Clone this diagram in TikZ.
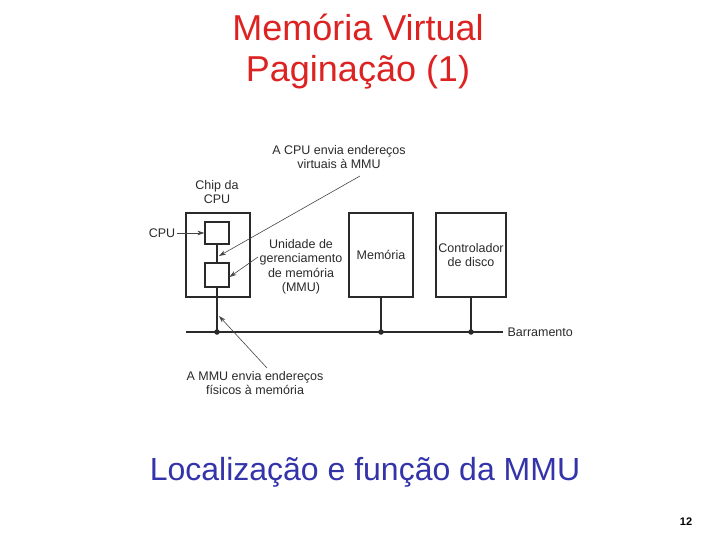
\documentclass[tikz,border=0pt]{standalone}
\usepackage{fontspec}
\setmainfont{Liberation Sans}
\usetikzlibrary{arrows.meta, positioning}
\definecolor{ctitle}{HTML}{DD2222}
\definecolor{ccaption}{HTML}{3333AA}
\definecolor{cink}{HTML}{2A2A2A}
\definecolor{cleader}{HTML}{444444}
\tikzset{
  every picture/.style={line width=1.1pt},
  unit/.style={draw=cink, minimum width=#1, inner sep=0pt},
  unit/.default=64pt,
  label/.style={text=cink, align=center, inner sep=1pt, font=\fontsize{12.5}{14.5}\selectfont},
  leader/.style={-{Stealth[length=7pt, width=4.5pt]}, draw=cleader, line width=0.6pt},
  title/.style={text=ctitle, font=\fontsize{36}{40}\selectfont},
  caption/.style={text=ccaption, font=\fontsize{32}{36}\selectfont},
  junction/.style={circle, fill=cink, inner sep=0pt, minimum size=5.5pt},
}

\begin{document}
\begin{tikzpicture}[x=1pt, y=-1pt]
  \useasboundingbox (0,0) rectangle (720,540);
  % titles
  \node[title] (t1) at (358,27) {Memória Virtual};
  \node[title] (t2) at (358,72) {Paginação (1)};
  % chip with cpu and mmu
  \node[unit=64pt, minimum height=84pt] (chip) at (218,255) {};
  \node[unit=24pt, minimum height=22pt] (cpu) at (217,233) {};
  \node[unit=24pt, minimum height=24pt] (mmu) at (217,275) {};
  \node[unit=64pt, minimum height=84pt, label] (mem) at (381,255) {Memória};
  \node[unit=70pt, minimum height=84pt, label] (disk) at (471,255) {Controlador\\de disco};
  % bus
  \coordinate (busL) at (186,332);
  \coordinate (busR) at (503,332);
  \node[label, anchor=west] (bus) at (506,332) {Barramento};
  \draw[cink] (busL) -- (busR);
  \draw[cink] (cpu.south) -- (mmu.north);
  \draw[cink] (mmu.south) -- (mmu.south |- busL);
  \draw[cink] (mem.south) -- (mem.south |- busL);
  \draw[cink] (disk.south) -- (disk.south |- busL);
  \node[junction] (jmmu) at (mmu.south |- busL) {};
  \node[junction] (jmem) at (mem.south |- busL) {};
  \node[junction] (jdisk) at (disk.south |- busL) {};
  % labels and leaders
  \node[label] (chiplbl) at (217,192) {Chip da\\CPU};
  \node[label] (cpulbl) at (162,233) {CPU};
  \draw[leader] (cpulbl.east) -- (cpu.west);
  \node[label] (mmulbl) at (301,267) {Unidade de\\gerenciamento\\de memória\\(MMU)};
  \coordinate (mmufrom) at (258,257);
  \draw[leader] (mmufrom) -- ([yshift=-2pt]mmu.east);
  \node[label] (vlbl) at (339,157) {A CPU envia endereços\\virtuais à MMU};
  \coordinate (vfrom) at (360,176);
  \coordinate (vto) at (219,256);
  \draw[leader] (vfrom) -- (vto);
  \node[label] (plbl) at (255,383) {A MMU envia endereços\\físicos à memória};
  \coordinate (pfrom) at (267,368);
  \coordinate (pto) at (219,316);
  \draw[leader] (pfrom) -- (pto);
  % caption
  \node[caption] (cap) at (365,472) {Localização e função da MMU};
  \node[font=\fontsize{11}{13}\selectfont\bfseries] (page) at (686,522) {12};
\end{tikzpicture}
\end{document}
